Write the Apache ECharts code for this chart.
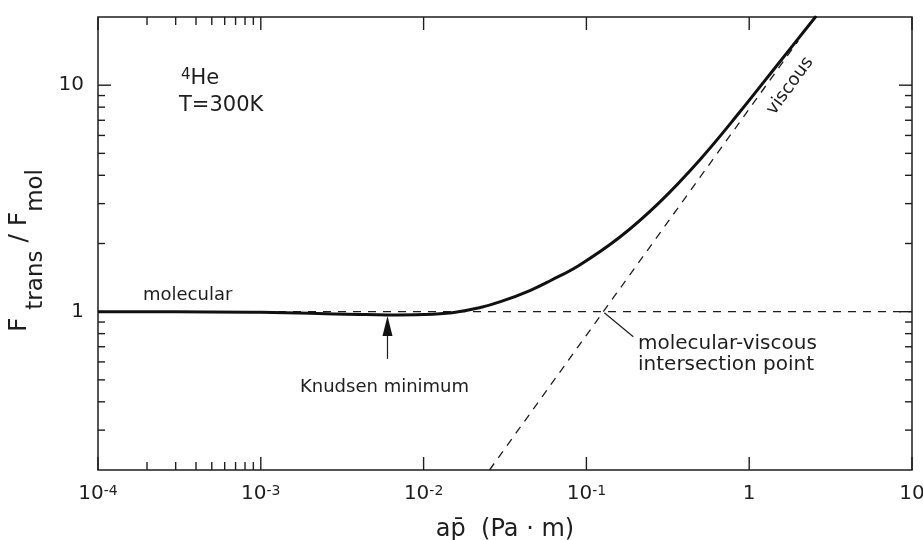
<!DOCTYPE html>
<html>
<head>
<meta charset="utf-8">
<script src="https://cdn.jsdelivr.net/npm/echarts@6/dist/echarts.min.js"></script>
<style>
  html, body { margin: 0; padding: 0; background: #fff; }
  #chart { width: 923px; height: 540px; }
</style>
</head>
<body>
<div id="chart"></div>
<script>
// Transmission ratio F_trans / F_mol of 4He at 300 K against a·p̄ (Pa·m)
const apValues = [1e-4, 3e-4, 1e-3, 2e-3, 4e-3, 6e-3, 1e-2, 1.5e-2, 2.2e-2, 3e-2,
                  4.5e-2, 6e-2, 9e-2, 0.16, 0.28, 0.5, 0.87, 1.53, 2.58];
const ratioValues = [1.0, 1.0, 0.993, 0.983, 0.972, 0.968, 0.972, 0.99, 1.04, 1.11,
                     1.24, 1.37, 1.6, 2.13, 3.03, 4.7, 7.57, 12.6, 20.2];

// Asymptotes: molecular (constant 1) and viscous (slope 1 in log-log)
const molecularAp = [1e-4, 10];
const molecularRatio = [1, 1];
const viscousAp = [0.0254, 0.127, 2.0];
const viscousRatio = [0.2, 1, 15.7];

// Knudsen minimum and molecular-viscous intersection
const knudsenMin = [6e-3, 0.968];
const intersection = [0.127, 1];

// Tick positions
const xMajorTicks = [1e-4, 1e-3, 1e-2, 1e-1, 1, 10];
const xMinorTicks = [2e-4, 3e-4, 4e-4, 5e-4, 6e-4, 7e-4, 8e-4, 9e-4];
const yMajorTicks = [1, 10];
const yMinorTicks = [0.3, 0.4, 0.5, 0.6, 0.7, 0.8, 0.9, 2, 3, 4, 5, 6, 7, 8, 9];
const xTickLabels = { '-4': '-4', '-3': '-3', '-2': '-2', '-1': '-1', '0': '1', '1': '10' };

const FONT = "'DejaVu Sans', 'Noto Sans', sans-serif";
const INK = '#1e1e1e';
const xMin = 1e-4, xMax = 10, yMin = 0.2, yMax = 20;

const zip = (a, b) => a.map((v, i) => [v, b[i]]);

const xTickData = xMajorTicks.map(v => [v, 1, 13]).concat(xMinorTicks.map(v => [v, 1, 8]));
const yTickData = yMajorTicks.map(v => [xMin, v, 13]).concat(yMinorTicks.map(v => [xMin, v, 7]));

const tickStyle = { stroke: INK, lineWidth: 1.4 };

const chart = echarts.init(document.getElementById('chart'), null, { renderer: 'canvas' });

const option = {
  animation: false,
  backgroundColor: '#fff',
  grid: {
    left: 98, right: 11, top: 17, bottom: 70,
    outerBoundsMode: 'none',
    containLabel: false,
    show: true, borderColor: INK, borderWidth: 1.5, backgroundColor: 'transparent'
  },
  xAxis: {
    type: 'log', logBase: 10, min: xMin, max: xMax,
    axisLine: { show: false },
    axisTick: { show: false },
    splitLine: { show: false },
    minorTick: { show: false },
    axisLabel: {
      margin: 14,
      fontFamily: FONT, color: INK,
      formatter: function (v) {
        const e = Math.round(Math.log10(v));
        if (Math.abs(Math.log10(v) - e) > 1e-6) return '';
        if (e >= 0) return '{b|' + xTickLabels[String(e)] + '}';
        return '{b|10}{s|' + xTickLabels[String(e)] + '}';
      },
      rich: {
        b: { fontSize: 20, lineHeight: 24, verticalAlign: 'top', fontFamily: FONT, color: INK },
        s: { fontSize: 14, lineHeight: 14, verticalAlign: 'top', fontFamily: FONT, color: INK }
      }
    },
    name: 'ap\u0304  (Pa \u00b7 m)',
    nameLocation: 'middle',
    nameGap: 48,
    nameTextStyle: { fontSize: 24, fontFamily: FONT, color: INK }
  },
  yAxis: {
    type: 'log', logBase: 10, min: yMin, max: yMax,
    axisLine: { show: false },
    axisTick: { show: false },
    splitLine: { show: false },
    minorTick: { show: false },
    axisLabel: {
      margin: 14, fontSize: 20, fontFamily: FONT, color: INK,
      formatter: function (v) {
        const e = Math.round(Math.log10(v));
        if (Math.abs(Math.log10(v) - e) > 1e-6) return '';
        return e === 0 ? '1' : '10';
      }
    },
    name: '{m|F }{s|trans}{m| / F}{e|mol}',
    nameLocation: 'middle',
    nameRotate: 90,
    nameGap: 48,
    nameTextStyle: {
      rich: {
        m: { fontSize: 25, lineHeight: 27, verticalAlign: 'top', fontFamily: FONT, color: INK },
        s: { fontSize: 23, lineHeight: 25, padding: [18, 0, 0, 0], verticalAlign: 'top', fontFamily: FONT, color: INK },
        e: { fontSize: 23, lineHeight: 25, padding: [18, 14, 0, 0], verticalAlign: 'top', fontFamily: FONT, color: INK }
      }
    }
  },
  series: [
    {
      name: 'molecular',
      type: 'line',
      data: zip(molecularAp, molecularRatio),
      symbol: 'none',
      lineStyle: { color: INK, width: 1.3, type: [8, 7] },
      z: 2
    },
    {
      name: 'viscous',
      type: 'line',
      data: zip(viscousAp, viscousRatio),
      symbol: 'none',
      lineStyle: { color: INK, width: 1.3, type: [8, 7] },
      z: 2
    },
    {
      name: 'transmission',
      type: 'line',
      data: zip(apValues, ratioValues),
      symbol: 'none',
      smooth: 0.4,
      clip: true,
      lineStyle: { color: '#111', width: 3 },
      z: 3
    },
    {
      name: 'xTicks',
      type: 'custom',
      data: xTickData,
      encode: { x: 0, y: 1 },
      silent: true,
      renderItem: function (params, api) {
        const cs = params.coordSys;
        const x = api.coord([api.value(0), 1])[0];
        const len = api.value(2);
        const bottom = cs.y + cs.height;
        return {
          type: 'group',
          children: [
            { type: 'line', shape: { x1: x, y1: bottom, x2: x, y2: bottom - len }, style: tickStyle },
            { type: 'line', shape: { x1: x, y1: cs.y, x2: x, y2: cs.y + len }, style: tickStyle }
          ]
        };
      }
    },
    {
      name: 'yTicks',
      type: 'custom',
      data: yTickData,
      encode: { x: 0, y: 1 },
      silent: true,
      renderItem: function (params, api) {
        const cs = params.coordSys;
        const y = api.coord([xMin, api.value(1)])[1];
        const len = api.value(2);
        const right = cs.x + cs.width;
        return {
          type: 'group',
          children: [
            { type: 'line', shape: { x1: cs.x, y1: y, x2: cs.x + len, y2: y }, style: tickStyle },
            { type: 'line', shape: { x1: right, y1: y, x2: right - len, y2: y }, style: tickStyle }
          ]
        };
      }
    }
  ]
};

chart.setOption(option);

// Annotations anchored to data positions
const px = p => chart.convertToPixel({ gridIndex: 0 }, p);
const kMin = px(knudsenMin);
const inter = px(intersection);
const txt = (x, y, text, size) => ({
  type: 'text', x: x, y: y,
  style: { text: text, fontSize: size, fontFamily: FONT, fill: INK, verticalAlign: 'middle' }
});

chart.setOption({
  graphic: [
    // isotope and temperature
    {
      type: 'text', x: 181, y: 80,
      style: {
        text: '{s|4}{b|He}',
        rich: {
          s: { fontSize: 15, lineHeight: 15, verticalAlign: 'top', fontFamily: FONT, fill: INK },
          b: { fontSize: 21, lineHeight: 24, verticalAlign: 'top', fontFamily: FONT, fill: INK }
        },
        verticalAlign: 'middle'
      }
    },
    txt(179, 106, 'T=300K', 21),
    txt(143, 295, 'molecular', 18),
    // Knudsen minimum arrow
    {
      type: 'line',
      shape: { x1: kMin[0], y1: kMin[1] + 18, x2: kMin[0], y2: kMin[1] + 44 },
      style: { stroke: INK, lineWidth: 1.2 }
    },
    {
      type: 'polygon',
      shape: { points: [[kMin[0], kMin[1] + 1], [kMin[0] - 5, kMin[1] + 21], [kMin[0] + 5, kMin[1] + 21]] },
      style: { fill: '#111' }
    },
    txt(300, 387, 'Knudsen minimum', 18),
    // intersection leader
    {
      type: 'line',
      shape: { x1: inter[0] + 1, y1: inter[1] + 1, x2: inter[0] + 30, y2: inter[1] + 25 },
      style: { stroke: INK, lineWidth: 1.2 }
    },
    txt(638, 344, 'molecular-viscous', 20),
    txt(638, 365, 'intersection point', 20),
    // viscous label along the asymptote
    {
      type: 'text', x: 790, y: 86, rotation: 54 * Math.PI / 180,
      style: { text: 'viscous', fontSize: 18, fontFamily: FONT, fill: INK, align: 'center', verticalAlign: 'middle' }
    }
  ]
});
</script>
</body>
</html>
